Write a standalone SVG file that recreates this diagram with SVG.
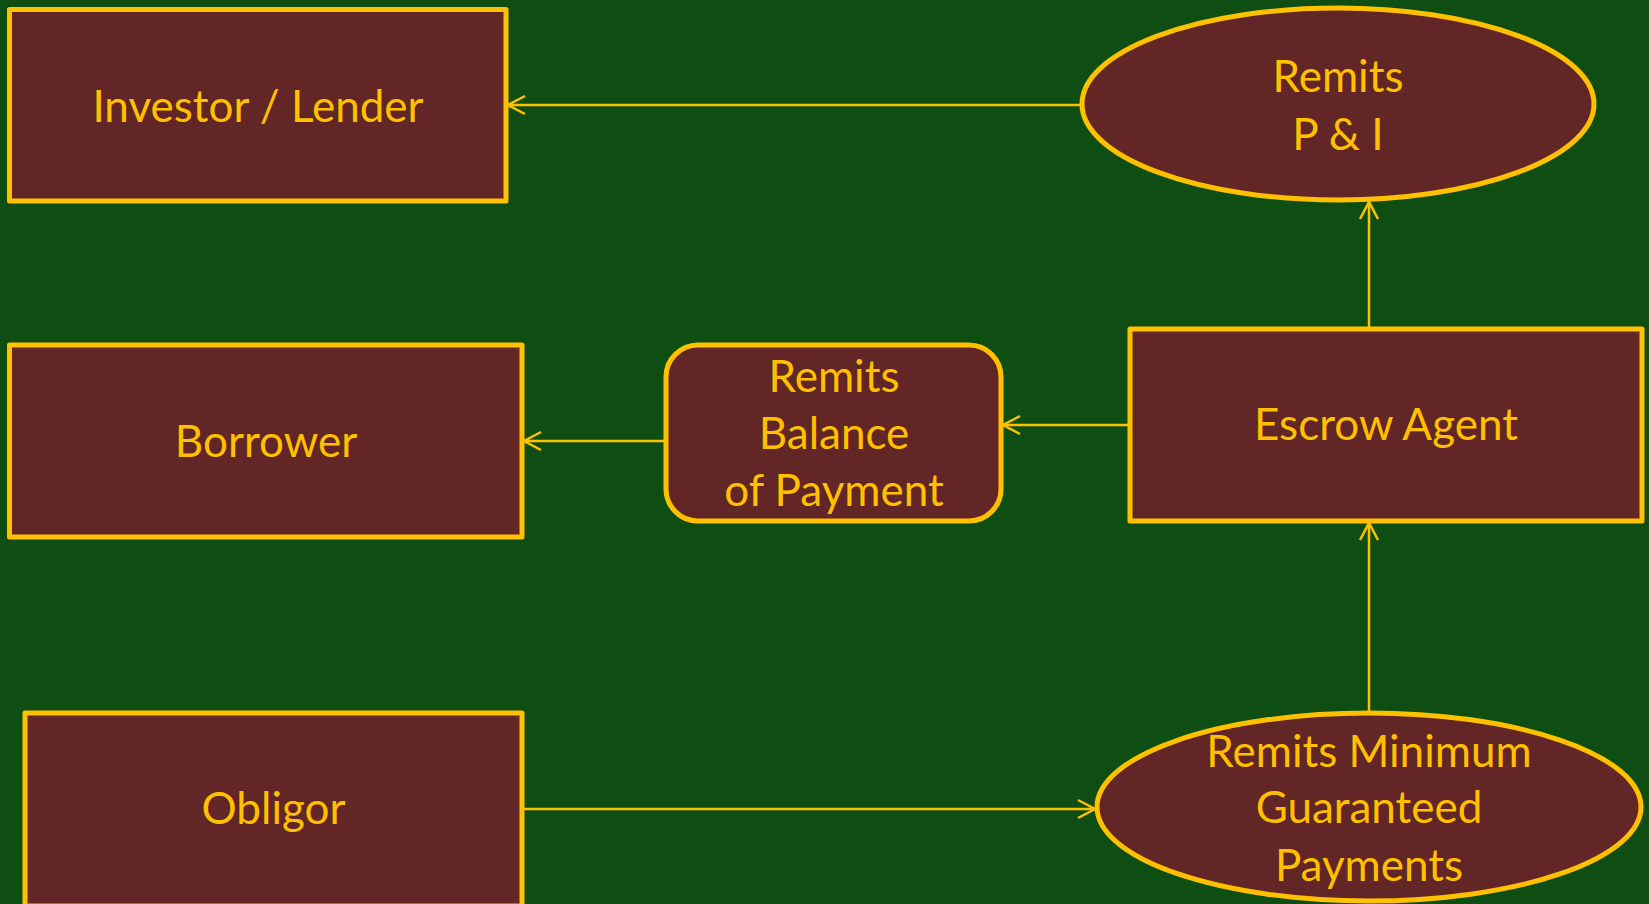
<svg xmlns="http://www.w3.org/2000/svg" width="1649" height="904" viewBox="0 0 1649 904">
<defs>
<style>
.node{fill:#622626;stroke:#FFC000;stroke-width:5;stroke-linejoin:round}
.lbl{font-family:Lato,"Liberation Sans",sans-serif;font-size:44px;fill:#FFC000;text-anchor:middle}
.conn{fill:none;stroke:#FFC000;stroke-width:2.5}
</style>
<marker id="arr" markerUnits="userSpaceOnUse" markerWidth="24" markerHeight="24" viewBox="-22 -12 24 24" refX="0" refY="0" orient="auto" overflow="visible">
<path d="M-17,-9 L0,0 L-17,9" fill="none" stroke="#FFC000" stroke-width="2.5"/>
</marker>
</defs>
<rect width="1649" height="904" fill="#0F4E12"/>
<g id="connectors">
<line class="conn" x1="1082" y1="105" x2="508" y2="105" marker-end="url(#arr)"/>
<line class="conn" x1="1369" y1="329" x2="1369" y2="202" marker-end="url(#arr)"/>
<line class="conn" x1="1130" y1="425" x2="1003" y2="425" marker-end="url(#arr)"/>
<line class="conn" x1="666" y1="441" x2="524" y2="441" marker-end="url(#arr)"/>
<line class="conn" x1="522" y1="809" x2="1095" y2="809" marker-end="url(#arr)"/>
<line class="conn" x1="1369" y1="713" x2="1369" y2="523" marker-end="url(#arr)"/>
</g>
<g id="investor">
<rect class="node" x="9.5" y="9.5" width="496.5" height="191.5"/>
<text class="lbl" x="258" y="122">Investor / Lender</text>
</g>
<g id="remits-pi">
<ellipse class="node" cx="1338" cy="104" rx="256" ry="96"/>
<text class="lbl" x="1338" y="92">Remits</text>
<text class="lbl" x="1338" y="150">P &amp; I</text>
</g>
<g id="borrower">
<rect class="node" x="9.5" y="345" width="512.5" height="192"/>
<text class="lbl" x="266" y="457">Borrower</text>
</g>
<g id="remits-balance">
<rect class="node" x="666" y="345" width="335" height="176" rx="32" ry="32"/>
<text class="lbl" x="834" y="392">Remits</text>
<text class="lbl" x="834" y="449">Balance</text>
<text class="lbl" x="834" y="506">of Payment</text>
</g>
<g id="escrow">
<rect class="node" x="1130" y="329" width="512" height="192"/>
<text class="lbl" x="1386" y="440">Escrow Agent</text>
</g>
<g id="obligor">
<rect class="node" x="25" y="713" width="497" height="193"/>
<text class="lbl" x="273.5" y="824">Obligor</text>
</g>
<g id="remits-minimum">
<ellipse class="node" cx="1369" cy="807" rx="272" ry="94"/>
<text class="lbl" x="1369" y="767">Remits Minimum</text>
<text class="lbl" x="1369" y="823">Guaranteed</text>
<text class="lbl" x="1369" y="881">Payments</text>
</g>
</svg>
